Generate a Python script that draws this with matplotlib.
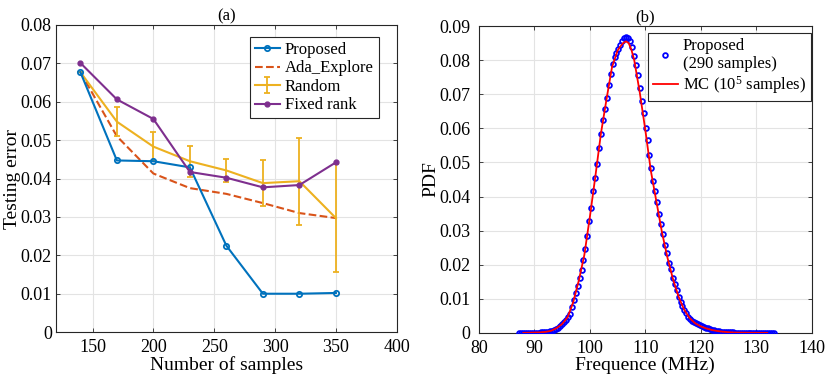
import matplotlib.pyplot as plt

plt.rcParams["font.family"] = ["Liberation Serif", "DejaVu Serif"]
plt.rcParams["mathtext.fontset"] = "custom"
plt.rcParams["mathtext.rm"] = "Liberation Serif"
plt.rcParams["mathtext.it"] = "Liberation Serif:italic"

# ---- panel (a): testing error vs number of samples ----------------------
n_samples = [140, 170, 200, 230, 260, 290, 320, 350]
err_proposed = [0.0677, 0.0447, 0.0445, 0.0429, 0.0225, 0.0100, 0.0100, 0.0102]
err_ada = [0.0677, 0.0510, 0.0413, 0.0375, 0.0360, 0.0336, 0.0310, 0.0297]
err_random = [0.0677, 0.0548, 0.0483, 0.0445, 0.0421, 0.0388, 0.0393, 0.0297]
err_random_std = [0.0, 0.0037, 0.0037, 0.0040, 0.0031, 0.0059, 0.0113, 0.0140]
err_fixed = [0.0701, 0.0606, 0.0555, 0.0417, 0.0402, 0.0377, 0.0383, 0.0442]

# ---- panel (b): PDF of frequency ---------------------------------------
freq_prop = [
    87.3, 87.65, 88.0, 88.35, 88.7, 89.05, 89.4, 89.75, 90.1, 90.45,
    90.8, 91.15, 91.5, 91.85, 92.2, 92.55, 92.9, 93.25, 93.6, 93.95,
    94.3, 94.65, 95.0, 95.35, 95.7, 96.05, 96.4, 96.75, 97.1, 97.45,
    97.8, 98.15, 98.5, 98.85, 99.2, 99.55, 99.9, 100.25, 100.6, 100.95,
    101.3, 101.65, 102.0, 102.35, 102.7, 103.05, 103.4, 103.75, 104.1, 104.45,
    104.8, 105.15, 105.5, 105.85, 106.2, 106.55, 106.9, 107.25, 107.6, 107.95,
    108.3, 108.65, 109.0, 109.35, 109.7, 110.05, 110.4, 110.75, 111.1, 111.45,
    111.8, 112.15, 112.5, 112.85, 113.2, 113.55, 113.9, 114.25, 114.6, 114.95,
    115.3, 115.65, 116.0, 116.35, 116.7, 117.05, 117.4, 117.75, 118.1, 118.45,
    118.8, 119.15, 119.5, 119.85, 120.2, 120.55, 120.9, 121.25, 121.6, 121.95,
    122.3, 122.65, 123.0, 123.35, 123.7, 124.05, 124.4, 124.75, 125.1, 125.45,
    125.8, 126.15, 126.5, 126.85, 127.2, 127.55, 127.9, 128.25, 128.6, 128.95,
    129.3, 129.65, 130.0, 130.35, 130.7, 131.05, 131.4, 131.75, 132.1, 132.45,
    132.8, 133.15,
]
pdf_prop = [
    0.0, 0.0, 0.0, 0.0, 0.0, 0.0, 0.05, 0.05, 0.05, 0.1,
    0.1, 0.15, 0.2, 0.25, 0.3, 0.4, 0.5, 0.7, 0.9, 1.2,
    1.5, 2.0, 2.5, 3.1, 3.9, 4.7, 5.6, 7.7, 9.6, 11.8,
    13.7, 16.2, 18.4, 21.5, 24.7, 28.3, 32.8, 36.7, 41.5, 45.5,
    49.5, 54.3, 58.3, 62.3, 65.7, 69.0, 72.6, 75.8, 78.8, 80.8,
    82.0, 83.2, 84.3, 85.5, 86.6, 86.9, 86.4, 85.7, 83.9, 81.2,
    78.5, 75.6, 71.8, 68.0, 64.4, 60.2, 56.6, 52.3, 48.5, 44.6,
    41.5, 38.5, 34.8, 31.9, 29.1, 25.7, 23.3, 20.6, 18.6, 16.2,
    14.4, 12.6, 10.6, 9.2, 7.9, 6.6, 5.7, 4.8, 4.1, 3.6,
    3.3, 2.9, 2.6, 2.3, 2.0, 1.7, 1.5, 1.3, 1.1, 0.9,
    0.8, 0.7, 0.6, 0.5, 0.4, 0.35, 0.3, 0.25, 0.2, 0.15,
    0.12, 0.1, 0.08, 0.06, 0.05, 0.04, 0.03, 0.02, 0.02, 0.01,
    0.01, 0.01, 0.01, 0.0, 0.0, 0.0, 0.0, 0.0, 0.0, 0.0,
    0.0, 0.0,
]
pdf_prop = [v / 1000 for v in pdf_prop]

freq_mc = [88, 89, 90, 91, 92, 93, 94, 95, 96, 97, 98, 99, 100, 101, 102,
           103, 104, 105, 105.5, 106, 106.5, 107, 107.5, 108, 109, 110, 111,
           112, 113, 114, 115, 116, 117, 118, 119, 120, 121, 122, 123, 124,
           125, 126, 128, 130, 132]
pdf_mc = [0.0, 0.05, 0.1, 0.15, 0.3, 0.6, 1.4, 2.6, 4.6, 9.0, 15.3, 22.8, 34.0,
          46.0, 58.5, 68.5, 78.0, 82.8, 84.0, 85.0, 85.5, 85.0, 83.0, 80.0,
          70.5, 59.5, 47.5, 38.5, 29.5, 22.0, 15.7, 10.6, 6.8, 4.3, 2.8, 1.9,
          1.3, 0.85, 0.55, 0.35, 0.2, 0.1, 0.05, 0.02, 0.0]
pdf_mc = [v / 1000 for v in pdf_mc]

C_BLUE, C_ORANGE, C_YELLOW, C_PURPLE = "#0072BD", "#D95319", "#EDB120", "#7E2F8E"

fig = plt.figure(figsize=(8.3, 3.77), dpi=100)
ax1 = fig.add_axes([0.0675, 0.119, 0.4105, 0.815])
ax2 = fig.add_axes([0.577, 0.117, 0.401, 0.814])


def matlab_style(ax, ypad=3):
    ax.grid(True, color="#e3e3e3", linewidth=0.8)
    ax.set_axisbelow(True)
    ax.tick_params(direction="in", top=True, right=True, length=3, pad=ypad,
                   labelsize=13, color="#262626", width=0.6)
    ax.tick_params(axis="x", pad=5)
    for s in ax.spines.values():
        s.set_color("#262626")
        s.set_linewidth(0.8)


h1, = ax1.plot(n_samples, err_proposed, "-o", color=C_BLUE, lw=1.5, ms=3.8,
               mfc="none", mew=1.3, label="Proposed", zorder=4)
h2, = ax1.plot(n_samples, err_ada, "--", color=C_ORANGE, lw=1.5,
               label="Ada_Explore", zorder=3)
h3 = ax1.errorbar(n_samples, err_random, yerr=err_random_std, color=C_YELLOW,
                  lw=1.5, elinewidth=1.3, capsize=2.5, capthick=1.3,
                  label="Random", zorder=3)
h4, = ax1.plot(n_samples, err_fixed, "-", marker=".", color=C_PURPLE, lw=1.5,
               ms=7, label="Fixed rank", zorder=4)

ax1.set_xlim(120, 400)
ax1.set_ylim(0, 0.08)
ax1.set_xticks([150, 200, 250, 300, 350, 400])
ax1.set_yticks([0, 0.01, 0.02, 0.03, 0.04, 0.05, 0.06, 0.07, 0.08])
ax1.set_yticklabels(["0", "0.01", "0.02", "0.03", "0.04", "0.05", "0.06", "0.07", "0.08"])
ax1.set_xlabel("Number of samples", fontsize=14, labelpad=0)
ax1.set_ylabel("Testing error", fontsize=14, labelpad=0)
ax1.set_title("(a)", fontsize=12, pad=3)
matlab_style(ax1)
leg1 = ax1.legend(handles=[h1, h2, h3, h4], loc="upper right",
                  bbox_to_anchor=(0.947, 0.961), fontsize=12,
                  frameon=True, fancybox=False, edgecolor="#262626",
                  handlelength=1.5, handletextpad=0.3, borderpad=0.3,
                  labelspacing=0.15, borderaxespad=0, framealpha=1)
leg1.get_frame().set_linewidth(0.8)

ax2.plot(freq_prop, pdf_prop, "o", color="blue", ms=3.4, mfc="none", mew=1.3,
         label="Proposed\n(290 samples)", zorder=3)
ax2.plot(freq_mc, pdf_mc, "-", color="red", lw=1.3,
         label="MC (10$^5$ samples)", zorder=4)
ax2.set_xlim(80, 140)
ax2.set_ylim(0, 0.09)
ax2.set_xticks([80, 90, 100, 110, 120, 130, 140])
ax2.set_yticks([0, 0.01, 0.02, 0.03, 0.04, 0.05, 0.06, 0.07, 0.08, 0.09])
ax2.set_yticklabels(["0", "0.01", "0.02", "0.03", "0.04", "0.05", "0.06", "0.07", "0.08", "0.09"])
ax2.set_xlabel("Frequence (MHz)", fontsize=14, labelpad=0)
ax2.set_ylabel("PDF", fontsize=14, labelpad=0)
ax2.set_title("(b)", fontsize=12, pad=3)
matlab_style(ax2, ypad=6)
leg2 = ax2.legend(loc="upper right", bbox_to_anchor=(0.997, 0.977), fontsize=12,
                  frameon=True, fancybox=False, edgecolor="#262626",
                  handlelength=1.5, handletextpad=0.3, borderpad=0.3,
                  labelspacing=0.1, borderaxespad=0, framealpha=1)
leg2.get_frame().set_linewidth(0.8)

fig.savefig("out.png", dpi=100)
